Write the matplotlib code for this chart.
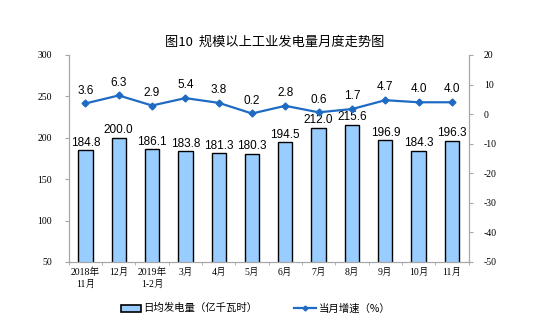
import matplotlib
matplotlib.use("Agg")
import matplotlib.pyplot as plt
import numpy as np
from matplotlib.patches import Rectangle
from matplotlib.lines import Line2D

plt.rcParams['font.family'] = ['Noto Sans CJK SC', 'DejaVu Sans']
plt.rcParams['axes.unicode_minus'] = False

categories = ["2018年\n11月", "12月", "2019年\n1-2月", "3月", "4月", "5月",
              "6月", "7月", "8月", "9月", "10月", "11月"]
daily_output = [184.8, 200.0, 186.1, 183.8, 181.3, 180.3,
                194.5, 212.0, 215.6, 196.9, 184.3, 196.3]
growth_rate = [3.6, 6.3, 2.9, 5.4, 3.8, 0.2, 2.8, 0.6, 1.7, 4.7, 4.0, 4.0]

bar_color = "#99CCFF"
line_color = "#1F6BC4"
grid_gray = "#A6A6A6"
serif = ['Liberation Serif', 'Noto Serif CJK SC', 'Noto Sans CJK SC']

fig = plt.figure(figsize=(5.5, 3.35), dpi=100)
ax = fig.add_axes([0.125, 0.218, 0.727, 0.618])
ax2 = ax.twinx()

x = np.arange(len(categories))
ax.bar(x, daily_output, width=0.43, color=bar_color, edgecolor="black",
       linewidth=1.0, zorder=2)
for xi, v in zip(x, daily_output):
    ax.text(xi, v + 2, f"{v:.1f}", ha="center", va="bottom", fontsize=8.5,
            family=['Liberation Sans'])

ax.set_ylim(50, 300)
ax.set_yticks(np.arange(50, 301, 50))
ax.set_xlim(-0.5, len(categories) - 0.5)
ax.set_xticks(x)
ax.set_xticklabels(categories, fontsize=7, family=serif, linespacing=1.3)
ax.set_xticks(np.arange(-0.5, len(categories), 1), minor=True)
ax.tick_params(axis="x", which="major", length=0, pad=4)
ax.tick_params(axis="x", which="minor", length=2, color=grid_gray)
ax.tick_params(axis="y", length=3, color=grid_gray, labelsize=7, pad=9)
for lab in ax.get_yticklabels():
    lab.set_family(serif)

ax2.plot(x, growth_rate, color=line_color, linewidth=1.6, marker="D",
         markersize=3.5, zorder=3)
for xi, v in zip(x, growth_rate):
    ax2.text(xi, v + 2.3, f"{v:.1f}", ha="center", va="bottom", fontsize=8.5,
             family=['Liberation Sans'])
ax2.set_ylim(-50, 20)
ax2.set_yticks(np.arange(-50, 21, 10))
ax2.tick_params(axis="y", length=3, color=grid_gray, labelsize=7, pad=8)
for lab in ax2.get_yticklabels():
    lab.set_family(serif)

for a in (ax, ax2):
    a.spines["top"].set_visible(False)
    for s in ("left", "right", "bottom"):
        a.spines[s].set_color(grid_gray)
        a.spines[s].set_linewidth(0.8)

fig.text(0.5, 0.875, "图10  规模以上工业发电量月度走势图", ha="center",
         va="center", fontsize=9.5)

# legend
fig.patches.append(Rectangle((0.220, 0.070), 0.036, 0.02, transform=fig.transFigure,
                             facecolor=bar_color, edgecolor="black", linewidth=1.2))
fig.text(0.260, 0.080, "日均发电量（亿千瓦时）", ha="left", va="center", fontsize=7.5)
fig.lines.append(Line2D([0.535, 0.575], [0.080, 0.080], transform=fig.transFigure,
                        color=line_color, linewidth=1.6))
fig.lines.append(Line2D([0.555], [0.080], transform=fig.transFigure,
                        color=line_color, marker="D", markersize=2.5, linestyle="none"))
fig.text(0.58, 0.080, "当月增速（%）", ha="left", va="center", fontsize=7.5)

fig.savefig("out.png", dpi=100)
